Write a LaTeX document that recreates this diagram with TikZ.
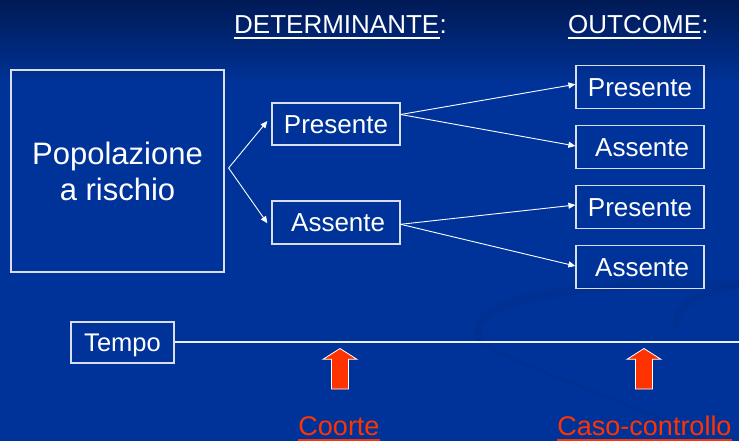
\documentclass[tikz,border=0pt]{standalone}
\usepackage{fontspec}
\setmainfont{Liberation Sans}
\usetikzlibrary{arrows.meta,calc}
\definecolor{bgblue}{HTML}{003399}
\definecolor{bgtop}{HTML}{001A55}
\definecolor{swirl}{HTML}{002B85}
\definecolor{boxline}{HTML}{D8DEEE}
\definecolor{redor}{HTML}{FF3300}
\tikzset{
  whitebox/.style={draw=boxline, line width=1.2pt, inner sep=0pt, text=white,
    font=\fontsize{26}{30}\selectfont, text height=18.6pt, text depth=0pt},
  conn/.style={draw=white, line width=0.9pt, -{Triangle[length=7pt,width=6pt]}},
  header/.style={text=white, inner sep=0pt, font=\fontsize{26}{30}\selectfont},
  redlabel/.style={text=redor, inner sep=0pt, font=\fontsize{27}{30}\selectfont},
  redarrow/.style={fill=redor, draw=white, line width=0.8pt, line join=miter},
}
\begin{document}
\begin{tikzpicture}[x=1pt,y=-1pt]
\useasboundingbox (0,0) rectangle (739,441);
% background
\fill[bgblue] (0,0) rectangle (739,441);
\shade[top color=bgtop, bottom color=bgblue] (0,0) rectangle (739,85);
% faint swirl
\begin{scope}[swirl, opacity=0.35, line cap=round]
\draw[line width=9pt] (478,338) .. controls (470,300) and (560,282) .. (739,284);
\draw[line width=7pt] (676,326) .. controls (675,305) and (700,292) .. (739,286);
\draw[line width=3pt] (478,340) .. controls (520,370) and (620,395) .. (705,441);
\end{scope}
% headers
\node[header, anchor=base west] (det) at (234,34) {DETERMINANTE};
\node[header, anchor=base west] (detc) at (det.base east) {:};
\draw[white, line width=1.5pt] ([yshift=-4pt]det.base west) -- ([yshift=-4pt]det.base east);
\node[header, anchor=base west] (out) at (568,34) {OUTCOME};
\node[header, anchor=base west] (outc) at (out.base east) {:};
\draw[white, line width=1.5pt] ([yshift=-4pt]out.base west) -- ([yshift=-4pt]out.base east);
% boxes
\node[draw=boxline, line width=1.2pt, inner sep=0pt, text=white, align=center,
  minimum width=213pt, minimum height=202pt,
  font=\fontsize{31}{36}\selectfont] (pop) at (117.5,171) {Popolazione\\a rischio};
\node[whitebox, minimum width=128pt, minimum height=42pt] (pm) at (336,124) {Presente};
\node[whitebox, minimum width=128pt, minimum height=43pt] (am) at (336,222.5) {\,Assente};
\node[whitebox, minimum width=128pt, minimum height=43pt] (p1) at (640,86.8) {Presente};
\node[whitebox, minimum width=128pt, minimum height=43pt] (a1) at (640,146.8) {\,Assente};
\node[whitebox, minimum width=128pt, minimum height=43pt] (p2) at (640,206.8) {Presente};
\node[whitebox, minimum width=128pt, minimum height=43pt] (a2) at (640,266.8) {\,Assente};
% connectors
\coordinate (fork) at ($(pop.east)+(4,-3)$);
\draw[conn] (fork) -- ([xshift=-4pt,yshift=3pt]pm.west);
\draw[conn] (fork) -- ([xshift=-4pt,yshift=-0.8pt]am.west);
\draw[conn] ([yshift=9.5pt]pm.east) -- ([yshift=2.5pt]p1.west);
\draw[conn] ([yshift=9.5pt]pm.east) -- ([yshift=0.8pt]a1.west);
\draw[conn] ([yshift=-1.8pt]am.east) -- ([yshift=1.8pt]p2.west);
\draw[conn] ([yshift=-1.8pt]am.east) -- ([yshift=0.8pt]a2.west);
% time line
\node[draw=boxline, line width=1.2pt, inner sep=0pt, text=white,
  minimum width=103pt, minimum height=41pt,
  font=\fontsize{25.5}{30}\selectfont, text height=18.4pt, text depth=0pt] (tempo) at (122.5,342.5) {Tempo};
\coordinate (tend) at (739,341.7);
\draw[draw=white!92!bgblue, line width=2.4pt] ([yshift=0.8pt]tempo.east) -- (tend);
% red arrows
\path[redarrow] (340,348.5) -- (357,359.3) -- (348.5,359.3) -- (348.5,389) -- (331.5,389) -- (331.5,359.3) -- (323,359.3) -- cycle;
\path[redarrow] (644,348.5) -- (661,359.3) -- (652.5,359.3) -- (652.5,389) -- (635.5,389) -- (635.5,359.3) -- (627,359.3) -- cycle;
% labels
\node[redlabel, anchor=base] (coorte) at (339,435) {Coorte};
\draw[redor, line width=2pt] ([yshift=-5pt]coorte.base west) -- ([yshift=-5pt]coorte.base east);
\node[redlabel, anchor=base] (caso) at (644.5,435) {Caso-controllo};
\draw[redor, line width=2pt] ([yshift=-5pt]caso.base west) -- ([yshift=-5pt]caso.base east);
\end{tikzpicture}
\end{document}
